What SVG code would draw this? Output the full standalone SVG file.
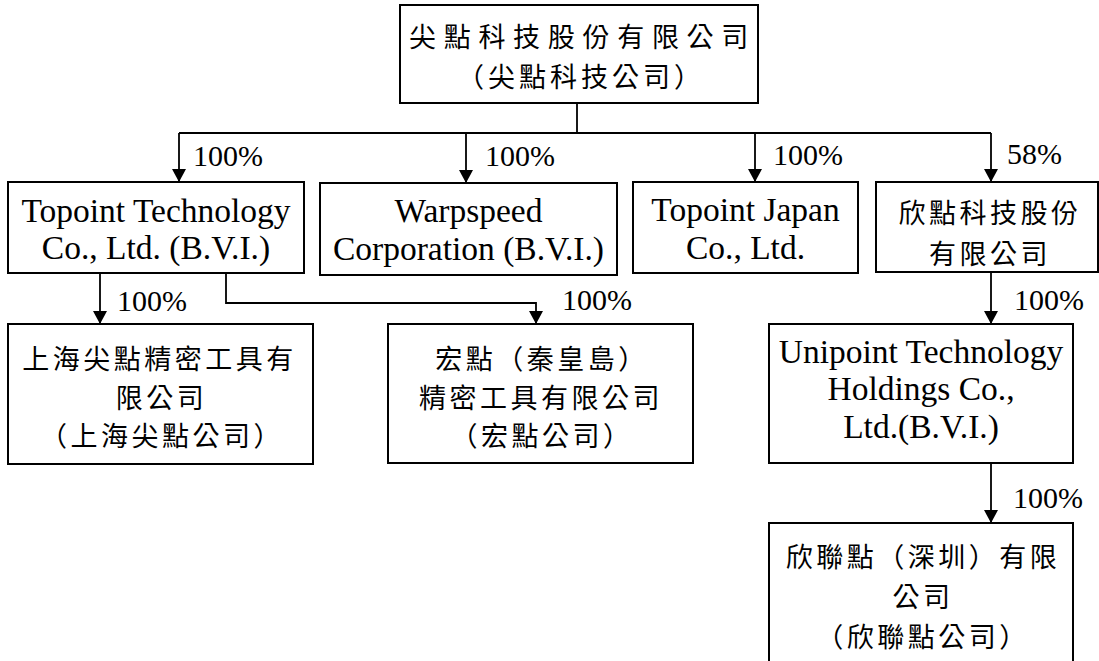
<svg xmlns="http://www.w3.org/2000/svg" width="1099" height="661" viewBox="0 0 1099 661">
<style>
.box{fill:#fff;stroke:#000;stroke-width:2}
.en{font-family:"Liberation Serif",serif;font-size:33.5px;fill:#000;text-anchor:middle}
.pct{font-family:"Liberation Serif",serif;font-size:30px;fill:#000}
.zh{font-family:"Noto Sans CJK TC",sans-serif;font-size:27px;fill:#000;text-anchor:middle;dominant-baseline:central;letter-spacing:3.5px}
.con{fill:none;stroke:#000;stroke-width:1.8}
</style>
<defs>
<marker id="arr" markerUnits="userSpaceOnUse" markerWidth="14" markerHeight="14" refX="13" refY="7" orient="auto">
<path d="M0,0 L13,7 L0,14 Z" fill="#000"/>
</marker>
</defs>
<rect width="1099" height="661" fill="#fff"/>
<g id="connectors">
<path class="con" d="M577,103 V133"/>
<path class="con" d="M179,133 H991"/>
<path class="con" d="M179,133 V182" marker-end="url(#arr)"/>
<path class="con" d="M466,133 V183" marker-end="url(#arr)"/>
<path class="con" d="M755,133 V182" marker-end="url(#arr)"/>
<path class="con" d="M991,133 V182" marker-end="url(#arr)"/>
<path class="con" d="M100,273 V324" marker-end="url(#arr)"/>
<path class="con" d="M226,273 V303 H536 V324" marker-end="url(#arr)"/>
<path class="con" d="M991,272 V324" marker-end="url(#arr)"/>
<path class="con" d="M991,463 V523" marker-end="url(#arr)"/>
<text class="pct" x="193" y="166">100%</text>
<text class="pct" x="485" y="166">100%</text>
<text class="pct" x="773" y="165">100%</text>
<text class="pct" x="1007" y="164">58%</text>
<text class="pct" x="117" y="311">100%</text>
<text class="pct" x="562" y="310">100%</text>
<text class="pct" x="1014" y="310">100%</text>
<text class="pct" x="1013" y="508">100%</text>
</g>
<g id="topoint">
<rect class="box" x="400" y="5" width="358" height="98"/>
<text class="zh" x="582.5" y="35" style="letter-spacing:7.7px">尖點科技股份有限公司</text>
<text class="zh" x="581" y="75" style="letter-spacing:4px">（尖點科技公司）</text>
</g>
<g id="topoint-bvi">
<rect class="box" x="8" y="182" width="296" height="91"/>
<text class="en" x="156" y="222">Topoint Technology</text>
<text class="en" x="156" y="259">Co., Ltd. (B.V.I.)</text>
</g>
<g id="warpspeed">
<rect class="box" x="320" y="183" width="297" height="92"/>
<text class="en" x="468.5" y="222">Warpspeed</text>
<text class="en" x="468.5" y="260">Corporation (B.V.I.)</text>
</g>
<g id="topoint-japan">
<rect class="box" x="633" y="182" width="225" height="91"/>
<text class="en" x="745.5" y="221">Topoint Japan</text>
<text class="en" x="745.5" y="259">Co., Ltd.</text>
</g>
<g id="xindian">
<rect class="box" x="876" y="182" width="222" height="90"/>
<text class="zh" x="990" y="211">欣點科技股份</text>
<text class="zh" x="990" y="252">有限公司</text>
</g>
<g id="shanghai">
<rect class="box" x="8" y="324" width="305" height="140"/>
<text class="zh" x="159.5" y="357">上海尖點精密工具有</text>
<text class="zh" x="161.5" y="396">限公司</text>
<text class="zh" x="162" y="434">（上海尖點公司）</text>
</g>
<g id="hongdian">
<rect class="box" x="388" y="324" width="305" height="139"/>
<text class="zh" x="542" y="357">宏點（秦皇島）</text>
<text class="zh" x="541" y="396">精密工具有限公司</text>
<text class="zh" x="542" y="434">（宏點公司）</text>
</g>
<g id="unipoint">
<rect class="box" x="769" y="324" width="304" height="139"/>
<text class="en" x="921" y="363">Unipoint Technology</text>
<text class="en" x="921" y="400">Holdings Co.,</text>
<text class="en" x="921" y="438">Ltd.(B.V.I.)</text>
</g>
<g id="xinliandian">
<rect class="box" x="769" y="523" width="304" height="150"/>
<text class="zh" x="923" y="555">欣聯點（深圳）有限</text>
<text class="zh" x="923" y="595">公司</text>
<text class="zh" x="923" y="635">（欣聯點公司）</text>
</g>
</svg>
